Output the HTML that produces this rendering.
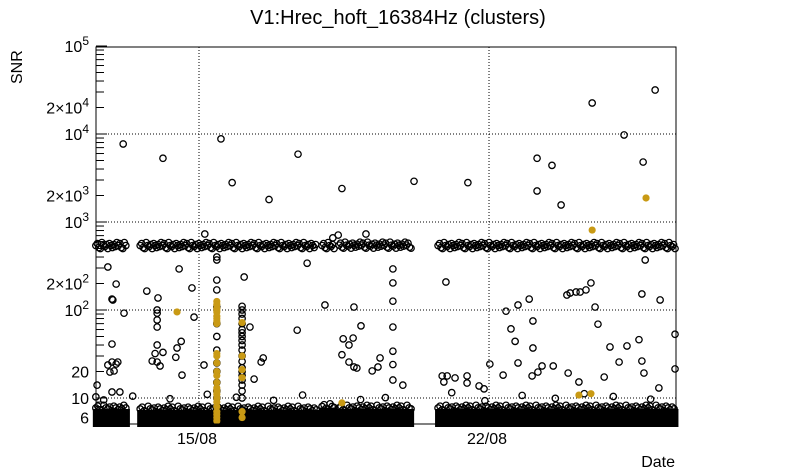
<!DOCTYPE html>
<html><head><meta charset="utf-8"><style>
body{margin:0;background:#fff;}
svg{display:block;font-family:"Liberation Sans",sans-serif;}
</style></head><body>
<svg id="chart" width="805" height="472" viewBox="0 0 805 472">
<rect x="0" y="0" width="805" height="472" fill="#fff"/>
<text x="398" y="24" font-size="20" text-anchor="middle">V1:Hrec_hoft_16384Hz (clusters)</text>
<text transform="translate(22,84) rotate(-90)" font-size="16">SNR</text>
<text x="675" y="467" font-size="16" text-anchor="end">Date</text>
<g id="grid"></g>
<g id="marks"></g>
<g id="axes"></g>
</svg>
<script>
// time in days since 15/08 00:00, SNR values
const xTickLabels = ["15/08","22/08"];
const xTickDays = [0,7];
const yMajorTicks = [10,100,1000,10000,100000];
const yLabelVals = [6,10,20,200,2000,20000];
const blackT = [-2.20,-2.00,-2.10,-2.08,-1.81,-2.10,-2.20,-2.10,-2.00,-1.96,-2.15,-2.05,-2.46,-2.10,-1.91,-2.49,-1.26,-0.99,-1.01,-1.01,-1.01,-1.01,-1.01,-1.06,-1.13,-1.01,-0.87,-0.94,-0.48,-0.43,-0.53,-0.56,-0.41,-0.17,-0.12,0.12,
0.43,0.43,0.43,0.43,0.43,0.43,0.43,0.43,0.43,0.43,0.43,0.43,0.43,
1.04,1.04,1.04,1.04,1.04,1.04,1.04,1.04,1.04,1.04,1.04,1.04,1.04,1.04,1.04,1.04,1.04,1.04,1.04,1.04,
1.09,1.23,1.50,1.55,1.33,2.37,2.61,3.04,3.74,3.91,3.48,3.72,3.62,3.45,3.62,3.74,3.81,4.18,4.32,4.37,
4.68,4.68,4.68,4.68,4.68,4.68,4.68,4.92,5.96,7.41,7.53,7.63,7.70,7.70,7.97,8.06,8.06,8.88,8.96,9.10,9.20,9.34,9.46,9.56,9.63,9.92,10.14,10.33,10.62,10.69,10.77,11.13,11.49,11.49,7.02,5.87,5.91,5.99,6.18,6.47,6.47,7.34,8.04,8.18,8.28,8.55,8.91,9.17,9.78,10.74,10.69,11.10,6.88,6.76,0.14,3.36,3.23,4.03,
-1.83,-0.87,0.53,0.80,1.69,2.39,3.45,5.19,6.49,8.16,8.52,8.16,8.74,9.49,10.26,10.72,11.01,
-2.3,-1.6,-0.7,0.2,0.9,1.8,2.5,3.9,4.5,6.1,6.9,7.8,8.6,9.3,10.0,10.9];
const blackSNR = [308,197,133,130,92,41,23.7,25.6,24.3,25.6,19.7,20.3,14,11.7,11.7,10.3,164,137,100,92,77,64,40,32,26.3,25.6,33,23.1,293,44,37,29,18.2,178,83,23.7,
400,370,219,169,108,70,50,35,25,20,15,12,10,
110,100,90,80,70,60,55,50,45,40,35,30,26,22,20,18,16,14,12,10,
237,64,25.6,28.5,16.4,59,340,114,108,66,47,48,40,31,25.6,22.5,21.9,20.3,22.5,28.5,
293,203,126,64,34,24,16,14,208,97,61,44,25,114,133,75,37,148,156,160,160,169,203,108,69,38,25.6,39,46,152,370,130,53,21.4,24.3,17.8,15.2,17.8,16.9,17.8,14.8,18.2,17.8,19.7,23.1,23.1,19.2,15.2,17.3,19.2,26.3,13,12.7,13.7,730,710,660,730,
7700,5300,8800,2800,1800,5900,2400,2900,2800,5300,4400,2250,1560,22500,9750,4800,31600,
9.5,10.5,9.8,11,10.2,9.4,10.8,9.6,10.1,11.5,9.3,10.7,9.9,11.2,10.4,9.7];
const goldT = [10.79,9.49,-0.53,0.43,0.43,0.43,0.43,0.43,0.43,0.43,0.43,0.43,0.43,0.43,0.43,0.43,0.43,0.43,0.43,0.43,0.43,0.43,0.43,0.43,0.43,0.43,0.43,0.43,1.04,1.04,1.04,1.04,1.04,1.04,3.45,9.17,9.46];
const goldSNR = [1875,810,95,125,115,105,100,95,85,80,75,70,32,30,25,20,18,15,13,12,11,10,9,8,7,6.5,6,5.5,72,30,21,17,7,6,8.8,10.8,11.2];
const bandStart = [-2.49,-1.42,2.97,3.38,5.77];
const bandEnd = [-1.74,2.85,3.28,5.12,11.5];
const bandSNR = [540,540,540,545,540];
const floorTop = [7.7,7.5,8,7.7,7.7];

const L=96,R=676,T=47,B=424;
const x=t=>199+t*41.43;
const y=v=>398-(Math.log10(v)-1)*88;
const NS="http://www.w3.org/2000/svg";
function mk(tag,attrs,parent){const e=document.createElementNS(NS,tag);for(const k in attrs)e.setAttribute(k,attrs[k]);parent.appendChild(e);return e;}
const grid=document.getElementById('grid'),marks=document.getElementById('marks'),axes=document.getElementById('axes');
const SW=1.3, RAD=3.2;

yMajorTicks.slice(0,4).forEach(v=>{
  const g=mk('line',{x1:L,x2:R,y1:y(v),y2:y(v),stroke:'#000','stroke-width':1,'stroke-dasharray':'1,2'},grid);
  
  
});
xTickDays.forEach(d=>{
  const g=mk('line',{x1:x(d),x2:x(d),y1:T,y2:B,stroke:'#000','stroke-width':1,'stroke-dasharray':'1,2'},grid);
  
  
});

const wob=[0,-2,2,3,-3,0,1,-1,3,-2,0,2,-1,1,-3];
bandStart.forEach((s,i)=>{
  let k=0;
  for(let px=x(s);px<=x(bandEnd[i]);px+=1.5,k++){
    const c=mk('circle',{cx:px,cy:y(bandSNR[i])+wob[k%wob.length],r:RAD,fill:'none',stroke:'#000','stroke-width':SW},marks);
    
    
  }
  const yt=y(floorTop[i]);
  const r=mk('rect',{x:x(s)-3,y:yt+1,width:x(bandEnd[i])-x(s)+6,height:426-yt,fill:'#000'},marks);
  
  
  k=0;
  for(let px=x(s);px<=x(bandEnd[i]);px+=2,k++){
    const c=mk('circle',{cx:px,cy:yt+wob[k%wob.length]*0.9,r:RAD,fill:'none',stroke:'#000','stroke-width':SW},marks);
    
    
  }
});
blackT.forEach((t,i)=>{
  const c=mk('circle',{cx:x(t),cy:y(blackSNR[i]),r:RAD,fill:'none',stroke:'#000','stroke-width':SW},marks);
  
  
});
goldT.forEach((t,i)=>{
  const c=mk('circle',{cx:x(t),cy:y(goldSNR[i]),r:3.6,fill:'#c99a14',stroke:'none'},marks);
  
  
});

const fr=mk('rect',{x:L,y:T,width:R-L,height:B-T,fill:'none',stroke:'#000','stroke-width':1},axes);


for(let d=1;d<=4;d++){
  const dec=Math.pow(10,d);
  for(let m=1;m<=9;m++){
    const v=dec*m;
    const len=m===1?11:8;
    const tk=mk('line',{x1:L,x2:L+len,y1:y(v),y2:y(v),stroke:'#000','stroke-width':1},axes);
    
    
  }
}
[5,6,7,8,9].forEach(v=>{
  const tk=mk('line',{x1:L,x2:L+8,y1:y(v),y2:y(v),stroke:'#000','stroke-width':1},axes);
  
  
});
const tk5=mk('line',{x1:L,x2:L+11,y1:y(100000),y2:y(100000),stroke:'#000'},axes);



function label(v){
  const t=mk('text',{x:89,y:y(v)+6,'font-size':16,'text-anchor':'end'},axes);
  
  
  const e=Math.round(Math.log10(v)), lead=v/Math.pow(10,e);
  if(v>=100){
    const pre=lead>1.5?Math.round(lead)+'×10':'10';
    const a=document.createElementNS(NS,'tspan');a.textContent=pre;t.appendChild(a);
    const b=document.createElementNS(NS,'tspan');b.setAttribute('dy','-7');b.setAttribute('font-size','12');b.textContent=String(Math.floor(Math.log10(v)));t.appendChild(b);
  } else t.textContent=String(v);
}
[100,1000,10000,100000].forEach(label);
yLabelVals.forEach(label);
xTickLabels.forEach((s,i)=>{
  const t=mk('text',{x:x(xTickDays[i])-2,y:444,'font-size':16,'text-anchor':'middle'},axes);
  t.textContent=s;
  
  
  const tk=mk('line',{x1:x(xTickDays[i]),x2:x(xTickDays[i]),y1:B,y2:B-11,stroke:'#000'},axes);
  
  
});
</script>
</body></html>
